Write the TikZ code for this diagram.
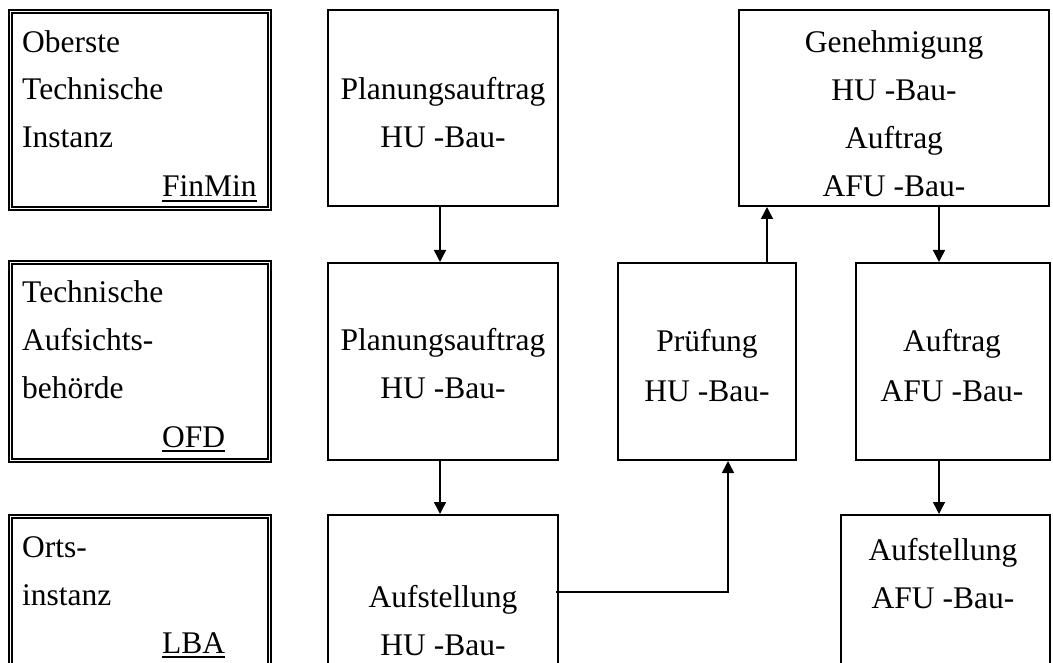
\documentclass[tikz,border=0pt]{standalone}
\usepackage{fontspec}
\setmainfont{Liberation Serif}
\usetikzlibrary{arrows.meta}
\tikzset{
  box/.style={draw, line width=2pt, rectangle, inner sep=0pt},
  dbox/.style={draw, rectangle, inner sep=0pt, double, line width=1.4pt, double distance=1.3pt},
  txt/.style={inner sep=0pt, anchor=base, font=\fontsize{31.5}{48}\selectfont},
  ltxt/.style={txt, anchor=base west},
  arr/.style={line width=1.5pt, -{Triangle[width=12pt,length=12pt]}},
  uline/.style={line width=1.5pt}
}
\begin{document}
\begin{tikzpicture}[x=1pt,y=-1pt]
\useasboundingbox (0,0) rectangle (1053,663);
\clip (0,0) rectangle (1053,663);
\fill[white] (0,0) rectangle (1053,663);
% left double boxes
\node[dbox, minimum width=259pt, minimum height=197pt] (l1) at (140,110) {};
\node[dbox, minimum width=259pt, minimum height=198pt] (l2) at (140,361.5) {};
\node[dbox, minimum width=259pt, minimum height=200pt] (l3) at (140,616.5) {};
\node[ltxt] (l1a) at (22,53) {Oberste};
\node[ltxt] (l1b) at (22,100) {Technische};
\node[ltxt] (l1c) at (22,148) {Instanz};
\node[ltxt] (l1d) at (162,197) {FinMin};
\draw[uline] ([yshift=-4pt]l1d.base west) -- ([yshift=-4pt]l1d.base east);
\node[ltxt] (l2a) at (22,303) {Technische};
\node[ltxt] (l2b) at (22,350) {Aufsichts-};
\node[ltxt] (l2c) at (22,398) {behörde};
\node[ltxt] (l2d) at (162,447) {OFD};
\draw[uline] ([yshift=-4pt]l2d.base west) -- ([yshift=-4pt]l2d.base east);
\node[ltxt] (l3a) at (22,557) {Orts-};
\node[ltxt] (l3b) at (22,605) {instanz};
\node[ltxt] (l3c) at (162,653) {LBA};
\draw[uline] ([yshift=-4pt]l3c.base west) -- ([yshift=-4pt]l3c.base east);
% boxes
\node[box, minimum width=230pt, minimum height=196pt] (p1) at (443,108) {};
\node[box, minimum width=230pt, minimum height=197pt] (p2) at (443,361.5) {};
\node[box, minimum width=230pt, minimum height=200pt] (a1) at (443,615) {};
\node[box, minimum width=310pt, minimum height=196pt] (g) at (894,108) {};
\node[box, minimum width=178pt, minimum height=197pt] (pr) at (707,361.5) {};
\node[box, minimum width=194pt, minimum height=197pt] (au) at (953,361.5) {};
\node[box, minimum width=209pt, minimum height=200pt] (af) at (945.5,615) {};
% texts
\node[txt] (p1a) at (443,100) {Planungsauftrag};
\node[txt] (p1b) at (443,148) {HU -Bau-};
\node[txt] (p2a) at (443,350) {Planungsauftrag};
\node[txt] (p2b) at (443,398) {HU -Bau-};
\node[txt] (a1a) at (443,607) {Aufstellung};
\node[txt] (a1b) at (443,655) {HU -Bau-};
\node[txt] (ga) at (894,53) {Genehmigung};
\node[txt] (gb) at (894,101) {HU -Bau-};
\node[txt] (gc) at (894,149) {Auftrag};
\node[txt] (gd) at (894,197) {AFU -Bau-};
\node[txt] (pra) at (707,352) {Prüfung};
\node[txt] (prb) at (707,401) {HU -Bau-};
\node[txt] (aua) at (952,352) {Auftrag};
\node[txt] (aub) at (952,401) {AFU -Bau-};
\node[txt] (afa) at (943,560) {Aufstellung};
\node[txt] (afb) at (943,608) {AFU -Bau-};
% connectors
\draw[arr] ([xshift=-3pt]p1.south) -- ([xshift=-3pt]p2.north);
\draw[arr] ([xshift=-3pt]p2.south) -- ([xshift=-3pt]a1.north);
\draw[arr] ([yshift=23pt,xshift=-3pt]a1.east) -| ([xshift=21pt]pr.south);
\draw[arr] ([xshift=60pt]pr.north) -- ([xshift=60pt]pr.north |- g.south);
\draw[arr] ([xshift=-14pt]au.north |- g.south) -- ([xshift=-14pt]au.north);
\draw[arr] ([xshift=-14pt]au.south) -- ([xshift=-14pt]au.south |- af.north);
\end{tikzpicture}
\end{document}
